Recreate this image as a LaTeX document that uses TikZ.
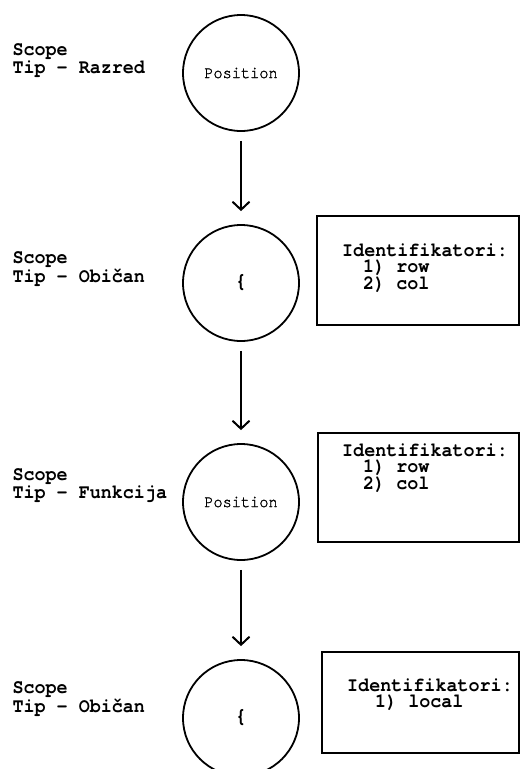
\documentclass[tikz,border=0pt]{standalone}
\usepackage{fontspec}
\setmainfont{texgyrecursor}[Extension=.otf,UprightFont=*-regular,BoldFont=*-bold,Ligatures=NoCommon]
\newfontfamily\labelfont{texgyrecursor}[Extension=.otf,UprightFont=*-bold,FakeStretch=0.92,Ligatures=NoCommon]
\newfontfamily\posfont{texgyrecursor}[Extension=.otf,UprightFont=*-regular,FakeStretch=0.9,FakeBold=1.2]
\usetikzlibrary{arrows.meta}

\begin{document}
\begin{tikzpicture}[x=1pt,y=-1pt,
  scopenode/.style={circle,draw,line width=1.8pt,minimum size=116pt,inner sep=0pt},
  scopelabel/.style={anchor=west,align=left,font=\labelfont\fontsize{20}{16}\selectfont},
  idbox/.style={draw,line width=2.5pt,inner sep=0pt},
  idtext/.style={align=left,font=\labelfont\fontsize{20}{15.5}\selectfont},
  flow/.style={line width=2pt,-{Straight Barb[length=8pt,width=17pt]},shorten <=9pt,shorten >=13pt}]
\useasboundingbox (0,0) rectangle (521,769);

\node[scopenode,font=\posfont\fontsize{17}{16}\selectfont] (A) at (241,73) {Position};
\node[scopenode,font=\labelfont\fontsize{21}{16}\selectfont] (B) at (241,283) {\{};
\node[scopenode,font=\posfont\fontsize{17}{16}\selectfont] (C) at (241,502) {Position};
\node[scopenode,font=\labelfont\fontsize{21}{16}\selectfont] (D) at (241,718) {\{};

\draw[flow] (A) -- (B);
\draw[flow] (B) -- (C);
\draw[flow] (C) -- (D);

\node[scopelabel] (lA) at (9,61) {Scope\\Tip - Razred};
\node[scopelabel] (lB) at (9,269) {Scope\\Tip - Običan};
\node[scopelabel] (lC) at (9,486) {Scope\\Tip - Funkcija};
\node[scopelabel] (lD) at (9,699) {Scope\\Tip - Običan};

% identifier tables
\node[idbox,minimum width=202pt,minimum height=109pt] (boxB) at (418,270.5) {};
\node[idtext] (idB) at (425,268) {Identifikatori:\\\hspace*{21pt}1) row\\\hspace*{21pt}2) col};

\node[idbox,minimum width=201pt,minimum height=109pt] (boxC) at (418.5,487.5) {};
\node[idtext] (idC) at (425,468) {Identifikatori:\\\hspace*{21pt}1) row\\\hspace*{21pt}2) col};

\node[idbox,minimum width=197pt,minimum height=101pt] (boxD) at (420.5,702.5) {};
\node[idtext] (idD) at (430,694.5) {Identifikatori:\\\hspace*{28pt}1) local};

\end{tikzpicture}
\end{document}
